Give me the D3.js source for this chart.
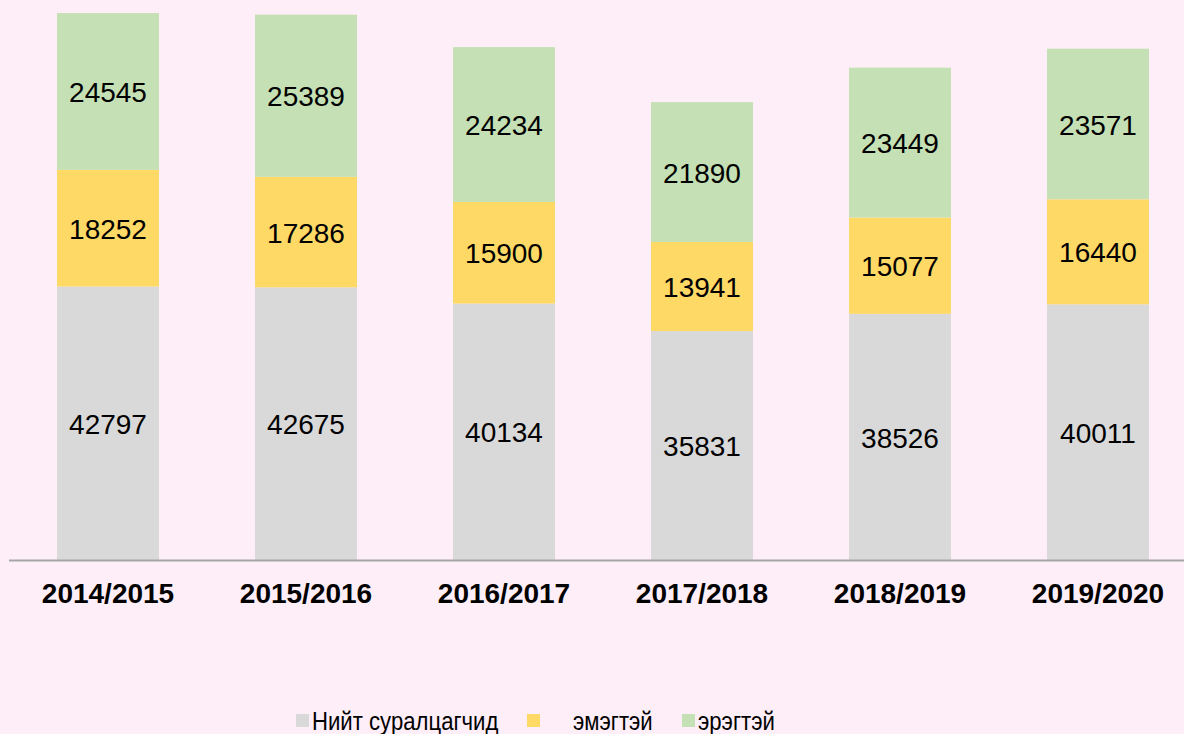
<!DOCTYPE html>
<html>
<head>
<meta charset="utf-8">
<script src="https://cdn.jsdelivr.net/npm/d3@7"></script>
<style>
  body { margin: 0; background: #fdeef8; }
  svg { display: block; font-family: "Liberation Sans", Arial, sans-serif; }
</style>
</head>
<body>
<script>
// Data
const years = ["2014/2015", "2015/2016", "2016/2017", "2017/2018", "2018/2019", "2019/2020"];
const total = [42797, 42675, 40134, 35831, 38526, 40011];
const female = [18252, 17286, 15900, 13941, 15077, 16440];
const male = [24545, 25389, 24234, 21890, 23449, 23571];
const seriesNames = ["Нийт суралцагчид", "эмэгтэй", "эрэгтэй"];
const seriesColors = ["#d9d9d9", "#ffd966", "#c5e0b4"];

const W = 1184, H = 734;
const baseY = 560;

const svg = d3.select("body").append("svg")
    .attr("width", W)
    .attr("height", H);

svg.append("rect")
    .attr("width", W)
    .attr("height", H)
    .attr("fill", "#fdeef8");

const rows = years.map((y, i) => ({ year: y, total: total[i], female: female[i], male: male[i] }));
const keys = ["total", "female", "male"];
const stacked = d3.stack().keys(keys)(rows);

const x = d3.scaleBand()
    .domain(years)
    .range([9, 1197])
    .paddingInner(0.485)
    .paddingOuter(0.2425);

const y = d3.scaleLinear()
    .domain([0, 90000])
    .range([baseY, baseY - 90000 / 156.5]);

const color = d3.scaleOrdinal().domain(keys).range(seriesColors);

const layers = svg.selectAll("g.layer")
    .data(stacked)
    .enter()
    .append("g")
    .attr("class", "layer")
    .attr("fill", d => color(d.key));

layers.selectAll("rect")
    .data(d => d)
    .enter()
    .append("rect")
    .attr("x", d => x(d.data.year))
    .attr("y", d => y(d[1]))
    .attr("width", x.bandwidth())
    .attr("height", d => y(d[0]) - y(d[1]));

layers.selectAll("text")
    .data(d => d.map(v => ({ v, key: d.key })))
    .enter()
    .append("text")
    .attr("x", d => x(d.v.data.year) + x.bandwidth() / 2)
    .attr("y", d => (y(d.v[0]) + y(d.v[1])) / 2)
    .attr("dy", "0.38em")
    .attr("text-anchor", "middle")
    .attr("fill", "#000")
    .style("font-size", "28px")
    .text(d => d.v.data[d.key]);

// Axis
const xAxis = svg.append("g")
    .attr("transform", `translate(0, ${baseY})`)
    .call(d3.axisBottom(x).tickSize(0).tickPadding(23));

xAxis.select(".domain")
    .attr("d", `M9,0.5H${W}`)
    .attr("stroke", "#a6a6a6")
    .attr("stroke-width", 2);

xAxis.selectAll("text")
    .style("font-family", "Liberation Sans, Arial, sans-serif")
    .style("font-size", "28px")
    .style("font-weight", "bold")
    .attr("fill", "#000");

// Legend
const legendItems = [
    { name: seriesNames[0], color: seriesColors[0], x: 296, tx: 312 },
    { name: seriesNames[1], color: seriesColors[1], x: 527, tx: 573 },
    { name: seriesNames[2], color: seriesColors[2], x: 682, tx: 698 }
];

const legend = svg.append("g").attr("class", "legend");

legend.selectAll("rect")
    .data(legendItems)
    .enter()
    .append("rect")
    .attr("x", d => d.x)
    .attr("y", 714)
    .attr("width", 13)
    .attr("height", 13)
    .attr("fill", d => d.color);

legend.selectAll("text")
    .data(legendItems)
    .enter()
    .append("text")
    .attr("transform", d => `translate(${d.tx}, 730) scale(0.886, 1)`)
    .style("font-size", "25px")
    .attr("fill", "#000")
    .text(d => d.name);
</script>
</body>
</html>
